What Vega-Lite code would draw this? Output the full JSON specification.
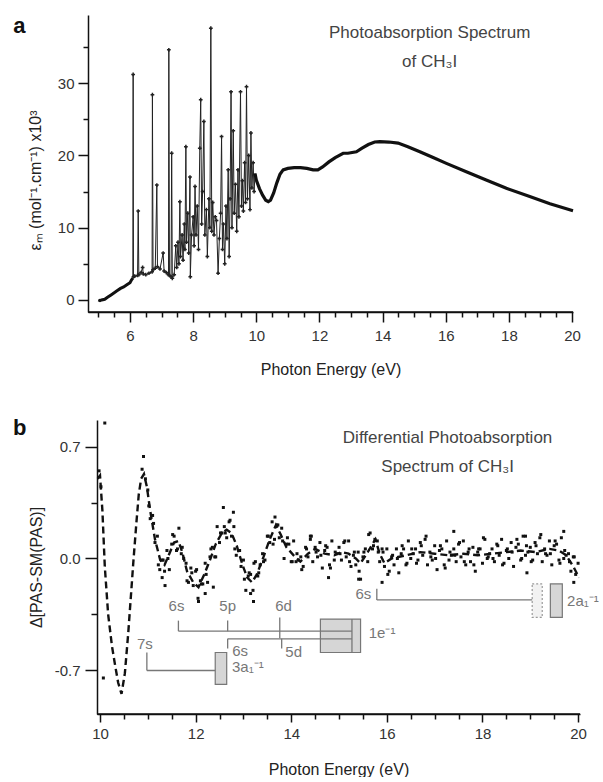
{
"$schema": "https://vega.github.io/schema/vega-lite/v6.json",
"background": "white",
"padding": {"left": 13, "top": 14, "right": 0, "bottom": 0},
"config": {"view": {"stroke": null}, "axis": {"domainColor": "#111", "domainWidth": 1.5, "tickColor": "#111", "tickWidth": 1.5, "grid": false, "labelFlush": false, "labelOverlap": false}},
"datasets": {
 "spec": [
  {"x":5.00,"y":0.0},{"x":5.05,"y":-0.1},{"x":5.10,"y":0.0},{"x":5.20,"y":0.1},{"x":5.30,"y":0.4},{"x":5.40,"y":0.7},{"x":5.50,"y":1.0},{"x":5.60,"y":1.3},{"x":5.70,"y":1.6},{"x":5.80,"y":1.8},{"x":5.90,"y":2.1},{"x":6.00,"y":2.4},{"x":6.05,"y":2.8},{"x":6.09,"y":3.0},
  {"x":6.10,"y":31.2},{"x":6.11,"y":3.2},{"x":6.15,"y":3.3},{"x":6.24,"y":3.4},{"x":6.26,"y":12.3},{"x":6.28,"y":3.5},{"x":6.35,"y":3.8},{"x":6.40,"y":4.5},{"x":6.42,"y":3.6},{"x":6.50,"y":3.5},{"x":6.60,"y":3.7},{"x":6.70,"y":3.9},{"x":6.71,"y":28.4},{"x":6.73,"y":4.2},{"x":6.80,"y":4.4},{"x":6.85,"y":15.9},{"x":6.87,"y":4.6},{"x":6.95,"y":4.3},{"x":7.05,"y":6.5},{"x":7.08,"y":4.0},{"x":7.15,"y":3.8},{"x":7.22,"y":3.5},{"x":7.23,"y":34.6},{"x":7.25,"y":3.4},{"x":7.30,"y":3.2},{"x":7.32,"y":20.3},{"x":7.34,"y":3.0},{"x":7.40,"y":3.5},{"x":7.45,"y":7.5},{"x":7.48,"y":4.5},{"x":7.52,"y":8.0},{"x":7.55,"y":5.0},{"x":7.58,"y":13.6},{"x":7.60,"y":6.0},{"x":7.65,"y":9.0},{"x":7.68,"y":5.5},{"x":7.72,"y":10.5},{"x":7.74,"y":7.0},{"x":7.77,"y":21.2},{"x":7.79,"y":8.0},{"x":7.83,"y":12.0},{"x":7.86,"y":6.5},{"x":7.90,"y":17.0},{"x":7.91,"y":3.2},{"x":7.95,"y":9.0},{"x":8.00,"y":11.5},{"x":8.03,"y":7.5},{"x":8.06,"y":15.7},{"x":8.09,"y":9.0},{"x":8.13,"y":13.0},{"x":8.17,"y":7.0},{"x":8.21,"y":21.0},{"x":8.24,"y":27.7},{"x":8.27,"y":10.5},{"x":8.30,"y":15.0},{"x":8.34,"y":24.7},{"x":8.37,"y":9.0},{"x":8.42,"y":12.5},{"x":8.45,"y":6.0},{"x":8.50,"y":14.0},{"x":8.53,"y":10.0},{"x":8.56,"y":37.6},{"x":8.59,"y":9.5},{"x":8.62,"y":13.5},{"x":8.66,"y":9.0},{"x":8.70,"y":11.5},{"x":8.74,"y":11.0},{"x":8.79,"y":3.7},{"x":8.83,"y":8.5},{"x":8.87,"y":12.0},{"x":8.90,"y":22.6},{"x":8.93,"y":7.0},{"x":8.96,"y":10.5},{"x":9.00,"y":5.0},{"x":9.04,"y":13.0},{"x":9.07,"y":8.5},{"x":9.11,"y":18.0},{"x":9.14,"y":6.0},{"x":9.17,"y":14.0},{"x":9.20,"y":28.8},{"x":9.23,"y":10.0},{"x":9.27,"y":23.4},{"x":9.30,"y":12.0},{"x":9.34,"y":16.0},{"x":9.38,"y":9.5},{"x":9.42,"y":18.0},{"x":9.45,"y":11.5},{"x":9.50,"y":28.8},{"x":9.53,"y":13.0},{"x":9.56,"y":16.5},{"x":9.59,"y":12.3},{"x":9.63,"y":19.0},{"x":9.66,"y":13.5},{"x":9.69,"y":29.5},{"x":9.72,"y":14.0},{"x":9.76,"y":20.0},{"x":9.80,"y":12.5},{"x":9.83,"y":23.1},{"x":9.86,"y":15.5},{"x":9.90,"y":19.0},{"x":9.93,"y":15.0},
  {"x":9.96,"y":17.5},{"x":10.00,"y":16.6},{"x":10.10,"y":15.4},{"x":10.20,"y":14.5},{"x":10.30,"y":13.8},{"x":10.38,"y":13.6},{"x":10.45,"y":13.8},{"x":10.55,"y":14.8},{"x":10.65,"y":16.2},{"x":10.75,"y":17.4},{"x":10.85,"y":18.0},{"x":11.00,"y":18.2},{"x":11.20,"y":18.3},{"x":11.40,"y":18.3},{"x":11.60,"y":18.2},{"x":11.80,"y":18.0},{"x":11.95,"y":18.0},{"x":12.10,"y":18.4},{"x":12.30,"y":19.1},{"x":12.50,"y":19.7},{"x":12.75,"y":20.3},{"x":12.90,"y":20.3},{"x":13.17,"y":20.5},{"x":13.35,"y":21.0},{"x":13.55,"y":21.5},{"x":13.75,"y":21.85},{"x":13.91,"y":21.9},{"x":14.20,"y":21.85},{"x":14.49,"y":21.7},{"x":14.80,"y":21.2},{"x":15.18,"y":20.5},{"x":15.60,"y":19.7},{"x":16.02,"y":18.9},{"x":16.65,"y":17.75},{"x":17.28,"y":16.6},{"x":17.92,"y":15.45},{"x":18.66,"y":14.3},{"x":19.30,"y":13.3},{"x":20.03,"y":12.35}
 ],
 "fit": [
  {"x":9.95,"y":0.50},{"x":10.00,"y":0.52},{"x":10.05,"y":0.30},{"x":10.10,"y":-0.05},{"x":10.17,"y":-0.35},{"x":10.25,"y":-0.55},{"x":10.31,"y":-0.66},{"x":10.38,"y":-0.78},{"x":10.45,"y":-0.85},{"x":10.52,"y":-0.72},{"x":10.59,"y":-0.47},{"x":10.65,"y":-0.22},{"x":10.70,"y":-0.01},{"x":10.76,"y":0.22},{"x":10.81,"y":0.40},{"x":10.86,"y":0.50},{"x":10.92,"y":0.53},{"x":10.98,"y":0.45},{"x":11.05,"y":0.30},{"x":11.15,"y":0.12},{"x":11.26,"y":-0.01},{"x":11.35,"y":-0.04},{"x":11.45,"y":0.03},{"x":11.55,"y":0.10},{"x":11.64,"y":0.11},{"x":11.72,"y":0.04},{"x":11.82,"y":-0.08},{"x":11.95,"y":-0.15},{"x":12.06,"y":-0.18},{"x":12.18,"y":-0.10},{"x":12.30,"y":-0.01},{"x":12.42,"y":0.09},{"x":12.55,"y":0.16},{"x":12.65,"y":0.18},{"x":12.75,"y":0.16},{"x":12.86,"y":0.08},{"x":12.98,"y":-0.04},{"x":13.08,"y":-0.12},{"x":13.18,"y":-0.15},{"x":13.28,"y":-0.10},{"x":13.42,"y":0.01},{"x":13.55,"y":0.12},{"x":13.68,"y":0.21},{"x":13.78,"y":0.15},{"x":13.90,"y":0.07},{"x":14.05,"y":0.02},{"x":14.19,"y":-0.02},{"x":14.35,"y":0.03},{"x":14.50,"y":0.06},{"x":14.70,"y":0.03},{"x":14.90,"y":0.02},{"x":15.05,"y":0.04},{"x":15.20,"y":0.03},{"x":15.35,"y":0.00},{"x":15.45,"y":-0.03},{"x":15.60,"y":0.04},{"x":15.76,"y":0.12},{"x":15.85,"y":0.03},{"x":15.95,"y":-0.03},{"x":16.10,"y":0.00},{"x":16.40,"y":0.02},{"x":16.70,"y":0.04},{"x":17.00,"y":0.03},{"x":17.30,"y":0.02},{"x":17.60,"y":0.03},{"x":17.90,"y":0.02},{"x":18.20,"y":0.03},{"x":18.50,"y":0.04},{"x":18.80,"y":0.05},{"x":19.10,"y":0.04},{"x":19.40,"y":0.06},{"x":19.60,"y":0.05},{"x":19.75,"y":0.02},{"x":19.90,"y":-0.05},{"x":20.02,"y":-0.12}
 ],
 "bpts": [
  {"x":9.98,"y":0.55},{"x":10.02,"y":0.45},{"x":10.10,"y":0.85},{"x":10.07,"y":-0.75},{"x":10.91,"y":0.64},{"x":10.88,"y":0.56},{"x":10.95,"y":0.50},{"x":11.36,"y":-0.17},{"x":12.06,"y":-0.27},{"x":12.37,"y":-0.18},{"x":13.21,"y":-0.27},{"x":12.58,"y":0.32},{"x":12.79,"y":0.29},{"x":13.66,"y":0.26},{"x":14.4,"y":0.14},{"x":14.78,"y":-0.12},{"x":15.41,"y":-0.13},{"x":15.9,"y":-0.15},{"x":17.4,"y":0.17},{"x":18.93,"y":-0.09},{"x":19.7,"y":0.17},{"x":19.91,"y":-0.15},{"x":18.9,"y":0.14},{"x":11.3,"y":-0.12},{"x":12.2,"y":-0.22},{"x":13.15,"y":-0.22},
  {"x":11.00,"y":0.43},{"x":11.05,"y":0.25},{"x":11.10,"y":0.27},{"x":11.15,"y":0.10},{"x":11.20,"y":0.14},{"x":11.25,"y":-0.07},{"x":11.30,"y":-0.01},{"x":11.35,"y":-0.08},{"x":11.40,"y":0.05},{"x":11.45,"y":-0.07},{"x":11.50,"y":0.09},{"x":11.55,"y":0.14},{"x":11.60,"y":0.05},{"x":11.65,"y":0.19},{"x":11.70,"y":0.03},{"x":11.75,"y":0.00},{"x":11.80,"y":-0.03},{"x":11.85,"y":-0.15},{"x":11.90,"y":-0.06},{"x":11.95,"y":-0.17},{"x":12.00,"y":-0.08},{"x":12.05,"y":-0.25},{"x":12.10,"y":-0.14},{"x":12.15,"y":-0.16},{"x":12.20,"y":-0.03},{"x":12.25,"y":-0.15},{"x":12.30,"y":0.01},{"x":12.35,"y":0.07},{"x":12.40,"y":0.01},{"x":12.45,"y":0.20},{"x":12.50,"y":0.10},{"x":12.55,"y":0.16},{"x":12.60,"y":0.20},{"x":12.65,"y":0.13},{"x":12.70,"y":0.23},{"x":12.75,"y":0.14},{"x":12.80,"y":0.20},{"x":12.85,"y":0.02},{"x":12.90,"y":0.05},{"x":12.95,"y":-0.05},{"x":13.00,"y":-0.01},{"x":13.05,"y":-0.20},{"x":13.10,"y":-0.11},{"x":13.15,"y":-0.10},{"x":13.20,"y":-0.20},{"x":13.25,"y":-0.02},{"x":13.30,"y":-0.11},{"x":13.35,"y":-0.04},{"x":13.40,"y":0.03},{"x":13.45,"y":-0.01},{"x":13.50,"y":0.14},{"x":13.55,"y":0.10},{"x":13.60,"y":0.23},{"x":13.65,"y":0.12},{"x":13.70,"y":0.21},{"x":13.75,"y":0.13},{"x":13.80,"y":0.19},{"x":13.85,"y":0.00},{"x":13.90,"y":0.09},{"x":13.95,"y":0.09},{"x":14.00,"y":-0.02},{"x":14.05,"y":0.11},{"x":14.10,"y":-0.02},{"x":14.15,"y":-0.01},{"x":14.20,"y":0.01},{"x":14.25,"y":-0.05},{"x":14.30,"y":0.07},{"x":14.35,"y":0.01},{"x":14.40,"y":0.12},{"x":14.45,"y":-0.02},{"x":14.50,"y":0.07},{"x":14.55,"y":0.01},{"x":14.60,"y":0.10},{"x":14.65,"y":-0.06},{"x":14.70,"y":0.05},{"x":14.75,"y":0.07},{"x":14.80,"y":-0.04},{"x":14.85,"y":0.11},{"x":14.90,"y":-0.01},{"x":14.95,"y":0.03},{"x":15.00,"y":0.07},{"x":15.05,"y":-0.01},{"x":15.10,"y":0.10},{"x":15.15,"y":0.01},{"x":15.20,"y":0.11},{"x":15.25,"y":-0.05},{"x":15.30,"y":0.02},{"x":15.35,"y":-0.04},{"x":15.40,"y":0.04},{"x":15.45,"y":-0.13},{"x":15.50,"y":0.01},{"x":15.55,"y":0.06},{"x":15.60,"y":-0.02},{"x":15.65,"y":0.16},{"x":15.70,"y":0.06},{"x":15.75,"y":0.12},{"x":15.80,"y":0.11},{"x":15.85,"y":-0.02},{"x":15.90,"y":0.06},{"x":15.95,"y":-0.05},{"x":16.00,"y":0.06},{"x":16.05,"y":-0.08},{"x":16.10,"y":0.01},{"x":16.15,"y":-0.04},{"x":16.20,"y":0.06},{"x":16.25,"y":-0.09},{"x":16.30,"y":0.03},{"x":16.35,"y":0.06},{"x":16.40,"y":-0.04},{"x":16.45,"y":0.11},{"x":16.50,"y":0.00},{"x":16.55,"y":0.03},{"x":16.60,"y":0.06},{"x":16.65,"y":-0.01},{"x":16.70,"y":0.10},{"x":16.75,"y":0.02},{"x":16.80,"y":0.12},{"x":16.85,"y":-0.04},{"x":16.90,"y":0.04},{"x":16.95,"y":-0.01},{"x":17.00,"y":0.08},{"x":17.05,"y":-0.07},{"x":17.10,"y":0.05},{"x":17.15,"y":0.06},{"x":17.20,"y":-0.04},{"x":17.25,"y":0.11},{"x":17.30,"y":-0.01},{"x":17.35,"y":0.02},{"x":17.40,"y":0.06},{"x":17.45,"y":-0.02},{"x":17.50,"y":0.09},{"x":17.55,"y":0.01},{"x":17.60,"y":0.11},{"x":17.65,"y":-0.04},{"x":17.70,"y":0.04},{"x":17.75,"y":-0.02},{"x":17.80,"y":0.07},{"x":17.85,"y":-0.08},{"x":17.90,"y":0.04},{"x":17.95,"y":0.06},{"x":18.00,"y":-0.03},{"x":18.05,"y":0.12},{"x":18.10,"y":0.00},{"x":18.15,"y":0.03},{"x":18.20,"y":0.06},{"x":18.25,"y":-0.02},{"x":18.30,"y":0.09},{"x":18.35,"y":0.02},{"x":18.40,"y":0.12},{"x":18.45,"y":-0.03},{"x":18.50,"y":0.05},{"x":18.55,"y":0.00},{"x":18.60,"y":0.10},{"x":18.65,"y":-0.05},{"x":18.70,"y":0.07},{"x":18.75,"y":0.09},{"x":18.80,"y":-0.01},{"x":18.85,"y":0.14},{"x":18.90,"y":0.02},{"x":18.95,"y":0.04},{"x":19.00,"y":0.07},{"x":19.05,"y":-0.01},{"x":19.10,"y":0.10},{"x":19.15,"y":0.03},{"x":19.20,"y":0.13},{"x":19.25,"y":-0.02},{"x":19.30,"y":0.06},{"x":19.35,"y":0.02},{"x":19.40,"y":0.11},{"x":19.45,"y":-0.04},{"x":19.50,"y":0.08},{"x":19.55,"y":0.09},{"x":19.60,"y":-0.01},{"x":19.65,"y":0.13},{"x":19.70,"y":0.00},{"x":19.75,"y":0.02},{"x":19.80,"y":0.03},{"x":19.85,"y":-0.08},{"x":19.90,"y":0.01},{"x":19.95,"y":-0.10},{"x":20.00,"y":-0.03},
  {"x":11.02,"y":0.33},{"x":11.12,"y":0.22},{"x":11.22,"y":-0.04},{"x":11.32,"y":-0.01},{"x":11.42,"y":0.00},{"x":11.52,"y":0.15},{"x":11.62,"y":0.06},{"x":11.72,"y":0.07},{"x":11.82,"y":-0.14},{"x":11.92,"y":-0.09},{"x":12.02,"y":-0.07},{"x":12.12,"y":-0.16},{"x":12.22,"y":-0.10},{"x":12.32,"y":0.06},{"x":12.42,"y":0.01},{"x":12.52,"y":0.16},{"x":12.62,"y":0.16},{"x":12.72,"y":0.24},{"x":12.82,"y":0.06},{"x":12.92,"y":0.05},{"x":13.02,"y":-0.13},{"x":13.12,"y":-0.09},{"x":13.22,"y":-0.03},{"x":13.32,"y":-0.09},{"x":13.42,"y":-0.02},{"x":13.52,"y":0.14},{"x":13.62,"y":0.09},{"x":13.72,"y":0.21},{"x":13.82,"y":0.11},{"x":13.92,"y":0.13},{"x":14.02,"y":-0.02},{"x":14.12,"y":0.03},{"x":14.22,"y":-0.07},{"x":14.32,"y":0.06},{"x":14.42,"y":0.14},{"x":14.52,"y":0.04},{"x":14.62,"y":0.02},{"x":14.72,"y":0.08},{"x":14.82,"y":-0.06},{"x":14.92,"y":0.04},{"x":15.02,"y":0.03},{"x":15.12,"y":0.11},{"x":15.22,"y":-0.02},{"x":15.32,"y":0.04},{"x":15.42,"y":-0.08},{"x":15.52,"y":0.04},{"x":15.62,"y":0.15},{"x":15.72,"y":0.08},{"x":15.82,"y":0.04},{"x":15.92,"y":0.04},{"x":16.02,"y":-0.10},{"x":16.12,"y":0.02},{"x":16.22,"y":0.00},{"x":16.32,"y":0.08},{"x":16.42,"y":-0.03},{"x":16.52,"y":0.06},{"x":16.62,"y":-0.03},{"x":16.72,"y":0.08},{"x":16.82,"y":0.14},{"x":16.92,"y":0.01},{"x":17.02,"y":0.00},{"x":17.12,"y":0.08},{"x":17.22,"y":-0.06},{"x":17.32,"y":0.04},{"x":17.42,"y":0.02},{"x":17.52,"y":0.10},{"x":17.62,"y":-0.02},{"x":17.72,"y":0.06},{"x":17.82,"y":-0.04},{"x":17.92,"y":0.06},{"x":18.02,"y":0.13},{"x":18.12,"y":0.01},{"x":18.22,"y":0.00},{"x":18.32,"y":0.08},{"x":18.42,"y":-0.04},{"x":18.52,"y":0.06},{"x":18.62,"y":0.04},{"x":18.72,"y":0.12},{"x":18.82,"y":0.00},{"x":18.92,"y":0.08},{"x":19.02,"y":-0.02},{"x":19.12,"y":0.08},{"x":19.22,"y":0.15},{"x":19.32,"y":0.03},{"x":19.42,"y":0.03},{"x":19.52,"y":0.11},{"x":19.62,"y":-0.03},{"x":19.72,"y":0.05},{"x":19.82,"y":-0.02},{"x":19.92,"y":0.01}
 ],
 "lad": [
  {"x":11.64,"x2":15.27,"y":-0.456,"y2":-0.456},
  {"x":11.64,"x2":11.64,"y":-0.39,"y2":-0.456},
  {"x":12.67,"x2":12.67,"y":-0.39,"y2":-0.456},
  {"x":13.76,"x2":13.76,"y":-0.37,"y2":-0.50},
  {"x":12.67,"x2":15.27,"y":-0.504,"y2":-0.504},
  {"x":12.67,"x2":12.67,"y":-0.504,"y2":-0.565},
  {"x":13.80,"x2":13.80,"y":-0.504,"y2":-0.565},
  {"x":10.98,"x2":10.98,"y":-0.59,"y2":-0.703},
  {"x":10.98,"x2":12.41,"y":-0.703,"y2":-0.703},
  {"x":15.79,"x2":15.79,"y":-0.19,"y2":-0.26},
  {"x":15.79,"x2":19.04,"y":-0.26,"y2":-0.26},
  {"x":15.27,"x2":15.27,"y":-0.38,"y2":-0.59}
 ],
 "boxdark": [
  {"x":14.61,"x2":15.45,"y":-0.38,"y2":-0.59},
  {"x":12.41,"x2":12.65,"y":-0.59,"y2":-0.79},
  {"x":19.42,"x2":19.67,"y":-0.16,"y2":-0.37}
 ],
 "boxlight": [
  {"x":19.04,"x2":19.25,"y":-0.16,"y2":-0.37}
 ],
 "labc": [
  {"x":11.60,"y":-0.30,"t":"6s"},{"x":12.67,"y":-0.30,"t":"5p"},{"x":13.84,"y":-0.30,"t":"6d"},{"x":12.93,"y":-0.578,"t":"6s"},{"x":14.05,"y":-0.588,"t":"5d"},{"x":10.94,"y":-0.535,"t":"7s"},{"x":15.51,"y":-0.22,"t":"6s"}
 ],
 "labl": [
  {"x":15.62,"y":-0.47,"t":"1e⁻¹"},{"x":12.76,"y":-0.68,"t":"3a₁⁻¹"},{"x":19.77,"y":-0.27,"t":"2a₁⁻¹"}
 ]
},
"spacing": 39,
"vconcat": [
 {
  "width": 485, "height": 297,
  "encoding": {
   "x": {"field": "x", "type": "quantitative", "scale": {"domain": [4.67, 20.03], "nice": false, "zero": false},
    "axis": {"values": [5,5.5,6,6.5,7,7.5,8,8.5,9,9.5,10,10.5,11,11.5,12,12.5,13,13.5,14,14.5,15,15.5,16,16.5,17,17.5,18,18.5,19,19.5,20],
     "labelExpr": "datum.value % 2 === 0 ? format(datum.value, 'd') : ''",
     "tickSize": {"condition": {"test": "datum.value % 2 === 0", "value": 10}, "value": 5},
     "labelFont": "Liberation Sans", "labelFontSize": 15, "labelColor": "#333", "titleFont": "Liberation Sans", "titleFontSize": 16, "titleFontWeight": "normal", "titleColor": "#222",
     "labelPadding": 6, "title": "Photon Energy (eV)", "titlePadding": 18}},
   "y": {"field": "y", "type": "quantitative", "scale": {"domain": [-1.66, 39.42], "nice": false, "zero": false},
    "axis": {"values": [0,5,10,15,20,25,30,35],
     "labelExpr": "datum.value % 10 === 0 ? datum.label : ''",
     "tickSize": {"condition": {"test": "datum.value % 10 === 0", "value": 10}, "value": 5},
     "labelFont": "Liberation Sans", "labelFontSize": 15, "labelColor": "#333", "titleFont": "Liberation Sans", "titleFontSize": 16, "titleFontWeight": "normal", "titleColor": "#222",
     "labelPadding": 4, "title": "εₘ (mol⁻¹.cm⁻¹) x10³", "titlePadding": 14, "titleY": 165}}
  },
  "layer": [
   {"data": {"values": [{"x": 4.67, "x2": 20.03, "y": -1.66}]}, "mark": {"type": "rule", "color": "#111", "strokeWidth": 1.5}, "encoding": {"x2": {"field": "x2"}}},
   {"data": {"name": "spec"}, "mark": {"type": "line", "color": "#222", "strokeWidth": 1}},
   {"data": {"name": "spec"}, "transform": [{"filter": "datum.x <= 6.09"}], "mark": {"type": "line", "color": "#111", "strokeWidth": 3}},
   {"data": {"name": "spec"}, "transform": [{"filter": "datum.x >= 9.96"}], "mark": {"type": "line", "color": "#111", "strokeWidth": 3.2}},
   {"data": {"name": "spec"}, "transform": [{"filter": "datum.x > 6.09 && datum.x < 9.96"}], "mark": {"type": "point", "shape": "cross", "size": 14, "filled": true, "color": "#222", "opacity": 1}},
   {"data": {"values": [{"x": 2.30, "y": 37.9, "t": "a"}]}, "mark": {"type": "text", "align": "left", "baseline": "middle", "font": "Liberation Sans", "fontSize": 22, "fontWeight": "bold", "color": "#111"}, "encoding": {"text": {"field": "t"}}},
   {"data": {"values": [{"x": 15.49, "y": 36.9, "t": "Photoabsorption Spectrum"}, {"x": 15.49, "y": 32.95, "t": "of CH₃I"}]}, "mark": {"type": "text", "align": "center", "baseline": "middle", "font": "Liberation Sans", "fontSize": 17, "color": "#444"}, "encoding": {"text": {"field": "t"}}}
  ]
 },
 {
  "bounds": "flush",
  "spacing": 0,
  "hconcat": [
   {"width": 9, "height": 294, "data": {"values": []}, "mark": "point"},
   {
    "width": 483, "height": 294,
    "encoding": {
     "x": {"field": "x", "type": "quantitative", "scale": {"domain": [9.937, 20.04], "nice": false, "zero": false},
      "axis": {"values": [10,10.5,11,11.5,12,12.5,13,13.5,14,14.5,15,15.5,16,16.5,17,17.5,18,18.5,19,19.5,20],
       "labelExpr": "datum.value % 2 === 0 ? format(datum.value, 'd') : ''",
       "tickSize": {"condition": {"test": "datum.value % 2 === 0", "value": 8}, "value": 5},
       "labelFont": "Liberation Sans", "labelFontSize": 15, "labelColor": "#333", "titleFont": "Liberation Sans", "titleFontSize": 16, "titleFontWeight": "normal", "titleColor": "#222",
       "labelPadding": 4, "title": "Photon Energy (eV)", "titlePadding": 20}},
     "y": {"field": "y", "type": "quantitative", "scale": {"domain": [-0.976, 0.869], "nice": false, "zero": false},
      "axis": {"values": [-0.7,-0.35,0,0.35,0.7],
       "labelExpr": "abs(datum.value) > 0.3 && abs(datum.value) < 0.4 ? '' : replace(format(datum.value, '.1f'), '−', '-')",
       "tickSize": {"condition": {"test": "abs(datum.value) > 0.3 && abs(datum.value) < 0.4", "value": 6}, "value": 12},
       "labelFont": "Liberation Sans", "labelFontSize": 15, "labelColor": "#333", "titleFont": "Liberation Sans", "titleFontSize": 16, "titleFontWeight": "normal", "titleColor": "#222",
       "labelPadding": 5, "title": "Δ[PAS-SM(PAS)]", "titlePadding": 10}}
    },
    "layer": [
     {"data": {"values": [{"x": 9.937, "x2": 20.04, "y": -0.976}]}, "mark": {"type": "rule", "color": "#111", "strokeWidth": 1.5}, "encoding": {"x2": {"field": "x2"}}},
     {"data": {"name": "fit"}, "mark": {"type": "line", "color": "#111", "strokeWidth": 2.4, "strokeDash": [7, 4]}},
     {"data": {"name": "bpts"}, "mark": {"type": "square", "size": 9, "color": "#111", "opacity": 1}},
     {"data": {"name": "boxdark"}, "mark": {"type": "rect", "fill": "#d6d6d6", "stroke": "#777", "strokeWidth": 1.2}, "encoding": {"x2": {"field": "x2"}, "y2": {"field": "y2"}}},
     {"data": {"name": "boxlight"}, "mark": {"type": "rect", "fill": "#f2f2f2", "stroke": "#999", "strokeWidth": 1.2, "strokeDash": [2, 2]}, "encoding": {"x2": {"field": "x2"}, "y2": {"field": "y2"}}},
     {"data": {"name": "lad"}, "mark": {"type": "rule", "color": "#777", "strokeWidth": 1.3}, "encoding": {"x2": {"field": "x2"}, "y2": {"field": "y2"}}},
     {"data": {"name": "labc"}, "mark": {"type": "text", "align": "center", "baseline": "middle", "font": "Liberation Sans", "fontSize": 15, "color": "#777"}, "encoding": {"text": {"field": "t"}}},
     {"data": {"name": "labl"}, "mark": {"type": "text", "align": "left", "baseline": "middle", "font": "Liberation Sans", "fontSize": 15, "color": "#777"}, "encoding": {"text": {"field": "t"}}},
     {"data": {"values": [{"x": 8.18, "y": 0.82, "t": "b"}]}, "mark": {"type": "text", "align": "left", "baseline": "middle", "font": "Liberation Sans", "fontSize": 22, "fontWeight": "bold", "color": "#111"}, "encoding": {"text": {"field": "t"}}},
     {"data": {"values": [{"x": 17.27, "y": 0.753, "t": "Differential Photoabsorption"}, {"x": 17.27, "y": 0.571, "t": "Spectrum of CH₃I"}]}, "mark": {"type": "text", "align": "center", "baseline": "middle", "font": "Liberation Sans", "fontSize": 17, "color": "#444"}, "encoding": {"text": {"field": "t"}}}
    ]
   }
  ]
 }
]
}
